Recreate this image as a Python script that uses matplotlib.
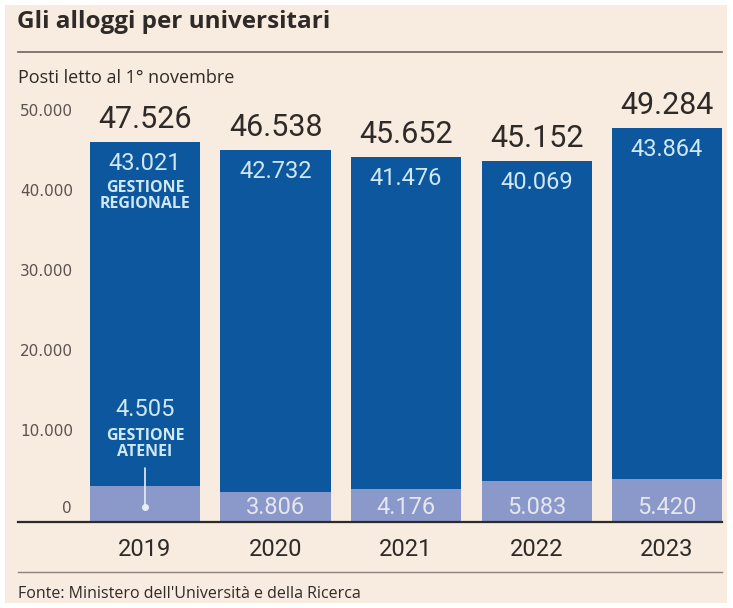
import matplotlib
matplotlib.use("Agg")
import matplotlib.pyplot as plt
from matplotlib.lines import Line2D
from matplotlib.patches import Rectangle
from matplotlib.transforms import blended_transform_factory, offset_copy

years = ["2019", "2020", "2021", "2022", "2023"]
regionale = [43021, 42732, 41476, 40069, 43864]
atenei = [4505, 3806, 4176, 5083, 5420]
totali = [r + a for r, a in zip(regionale, atenei)]
yticks = [0, 10000, 20000, 30000, 40000, 50000]

DARK = "#0d579f"
LIGHT = "#8a99c9"
BG = "#f8ebe0"
INK = "#2e2a28"
PALE = "#cfe8f2"

W, H = 733, 608


def fx(px):
    return px / W


def fy(py):
    return 1 - py / H


def fmt(v):
    return f"{v:,}".replace(",", ".")


fig = plt.figure(figsize=(W / 100, H / 100), dpi=100, facecolor="white")
fig.patches.append(Rectangle((fx(5), fy(603)), fx(722), 598 / H,
                             transform=fig.transFigure, facecolor=BG,
                             edgecolor="none", zorder=-1))

fig.text(fx(17), fy(22), "Gli alloggi per universitari", fontsize=17.5,
         fontweight="bold", family="Open Sans", color=INK, va="center")
fig.lines.append(Line2D([fx(18), fx(722)], [fy(52), fy(52)],
                        transform=fig.transFigure, color="#6d6460", lw=1.2))
fig.text(fx(18), fy(78), "Posti letto al 1° novembre", fontsize=13,
         family="Open Sans", color=INK, va="center")

ax = fig.add_axes([fx(80), fy(522), (722 - 80) / W, 420 / H])
ax.set_xlim(-0.498, 4.421)
ax.set_ylim(0, 52500)
ax.axis("off")

x = list(range(len(years)))
ax.bar(x, atenei, width=0.843, color=LIGHT)
ax.bar(x, regionale, bottom=atenei, width=0.843, color=DARK)

# y tick labels with short rules under them
tr = blended_transform_factory(fig.transFigure, ax.transData)
for v in yticks:
    if v == 0:
        ax.text(fx(72), 0, "0", transform=offset_copy(tr, fig=fig, y=6, units="dots"),
                ha="right", va="bottom", fontsize=11, family="DejaVu Sans",
                color="#5a5350")
        continue
    ax.text(fx(73), v, fmt(v), transform=offset_copy(tr, fig=fig, y=3, units="dots"),
            ha="right", va="bottom", fontsize=11, family="DejaVu Sans", color="#5a5350")
    ax.add_line(Line2D([fx(18), fx(73)], [v, v], transform=tr,
                       color="#8a817c", lw=1))

for i in x:
    top = totali[i]
    ax.annotate(fmt(top), (i, top), xytext=(0, 22), textcoords="offset pixels",
                ha="center", va="center", fontsize=22, family="Roboto", color=INK)
    ax.annotate(fmt(regionale[i]), (i, top), xytext=(0, -22), textcoords="offset pixels",
                ha="center", va="center", fontsize=17, family="Roboto", color=PALE)
    if i > 0:
        ax.annotate(fmt(atenei[i]), (i, 0), xytext=(0, 15), textcoords="offset pixels",
                    ha="center", va="center", fontsize=17, family="Roboto",
                    color="#e6e6ee")

# labels for the two segments on the first bar
ax.annotate("GESTIONE\nREGIONALE", (0, totali[0]), xytext=(0, -54),
            textcoords="offset pixels", ha="center", va="center", fontsize=11.5,
            fontweight="bold", family="Open Sans", color=PALE, linespacing=1.0)
ax.annotate(fmt(atenei[0]), (0, atenei[0]), xytext=(0, 76), textcoords="offset pixels",
            ha="center", va="center", fontsize=17, family="Roboto", color=PALE)
ax.annotate("GESTIONE\nATENEI", (0, atenei[0]), xytext=(0, 42), textcoords="offset pixels",
            ha="center", va="center", fontsize=11.5, fontweight="bold",
            family="Open Sans", color=PALE, linespacing=1.0)
ax.annotate("", (0, 0), xytext=(0, 54), textcoords="offset pixels",
            arrowprops=dict(arrowstyle="-", color="#e8eef4", lw=1.2,
                            shrinkA=0, shrinkB=15 * 0.72))
ax.plot(0, 0, "o", ms=4, color="#e8eef4",
        transform=offset_copy(ax.transData, fig=fig, y=15, units="dots"))

# baseline and year labels
fig.lines.append(Line2D([fx(18), fx(722)], [fy(522), fy(522)],
                        transform=fig.transFigure, color=INK, lw=1.6))
for i, yr in zip(x, years):
    ax.annotate(yr, (i, 0), xytext=(0, -28), textcoords="offset pixels",
                ha="center", va="center", fontsize=17, family="Roboto", color=INK,
                annotation_clip=False)

fig.lines.append(Line2D([fx(18), fx(722)], [fy(572), fy(572)],
                        transform=fig.transFigure, color="#8a817c", lw=1))
fig.text(fx(18), fy(594), "Fonte: Ministero dell'Università e della Ricerca",
         fontsize=11.5, family="Open Sans", color=INK, va="center")

fig.savefig("out.png", dpi=100, facecolor=fig.get_facecolor())
